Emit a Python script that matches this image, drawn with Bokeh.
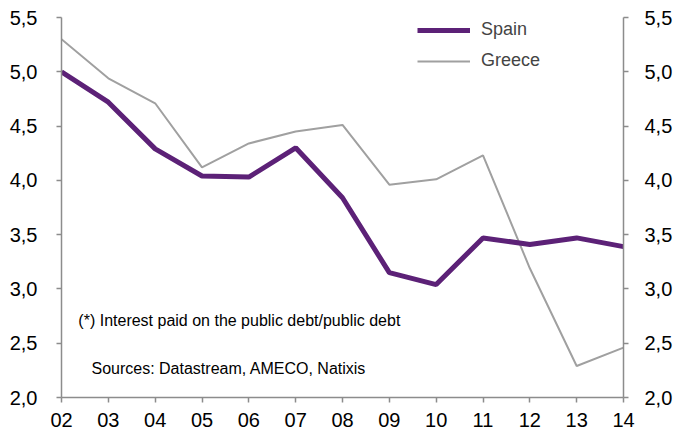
from bokeh.plotting import figure
from bokeh.models import (Range1d, LinearAxis, FixedTicker, CustomJSTickFormatter,
                          Legend, LegendItem, Label)
from bokeh.embed import file_html
from bokeh.resources import INLINE

years = [2, 3, 4, 5, 6, 7, 8, 9, 10, 11, 12, 13, 14]
spain = [5.00, 4.72, 4.29, 4.04, 4.03, 4.30, 3.84, 3.15, 3.04, 3.47, 3.41, 3.47, 3.39]
greece = [5.30, 4.94, 4.71, 4.12, 4.34, 4.45, 4.51, 3.96, 4.01, 4.23, 3.19, 2.29, 2.46]
y_ticks = [2.0, 2.5, 3.0, 3.5, 4.0, 4.5, 5.0, 5.5]
note_text = "(*) Interest paid on the public debt/public debt"
source_text = "Sources: Datastream, AMECO, Natixis"

FONT = "Liberation Sans"
AXIS_COLOR = "#8c8c8c"

p = figure(width=675, height=434, output_backend="svg", toolbar_location=None,
           x_range=Range1d(2, 14), y_range=Range1d(2.0, 5.5),
           min_border_left=61, min_border_right=52, min_border_top=17, min_border_bottom=37)
p.outline_line_color = None
p.xgrid.visible = False
p.ygrid.visible = False
p.background_fill_color = "white"
p.border_fill_color = "white"

yfmt = CustomJSTickFormatter(code="return tick.toFixed(1).replace('.', ',');")
xfmt = CustomJSTickFormatter(code="return String(Math.round(tick)).padStart(2, '0');")

right_axis = LinearAxis()
p.add_layout(right_axis, "right")

for ax in [p.yaxis[0], right_axis]:
    ax.ticker = FixedTicker(ticks=y_ticks)
    ax.formatter = yfmt

p.xaxis.ticker = FixedTicker(ticks=years)
p.xaxis.formatter = xfmt

for ax in p.xaxis + p.yaxis:
    ax.axis_line_color = AXIS_COLOR
    ax.axis_line_width = 1.5
    ax.major_tick_line_color = AXIS_COLOR
    ax.major_tick_line_width = 1.5
    ax.major_tick_out = 5
    ax.major_tick_in = 0
    ax.minor_tick_line_color = None
    ax.major_label_text_font = FONT
    ax.major_label_text_font_size = "20px"
    ax.major_label_text_color = "black"

p.yaxis[0].major_label_standoff = 19
right_axis.major_label_standoff = 16
p.xaxis.major_label_standoff = 10

r_greece = p.line(years, greece, line_color="#a0a0a0", line_width=2)
r_spain = p.line(years, spain, line_color="#5c2177", line_width=5)

legend = Legend(items=[LegendItem(label="Spain", renderers=[r_spain]),
                       LegendItem(label="Greece", renderers=[r_greece])],
                location=(356, 326))
legend.border_line_color = None
legend.background_fill_alpha = 0
legend.padding = 0
legend.margin = 0
legend.spacing = 10
legend.glyph_width = 53
legend.glyph_height = 20
legend.label_height = 20
legend.label_standoff = 11
legend.label_text_font = FONT
legend.label_text_font_size = "18px"
p.add_layout(legend, "center")

p.add_layout(Label(x=2.36, y=2.71, text=note_text, text_font=FONT, text_font_size="16px",
                   text_baseline="middle", text_color="black"))
p.add_layout(Label(x=2.64, y=2.268, text=source_text, text_font=FONT, text_font_size="16px",
                   text_baseline="middle", text_color="black"))

open("out.html", "w").write(file_html(p, INLINE))
